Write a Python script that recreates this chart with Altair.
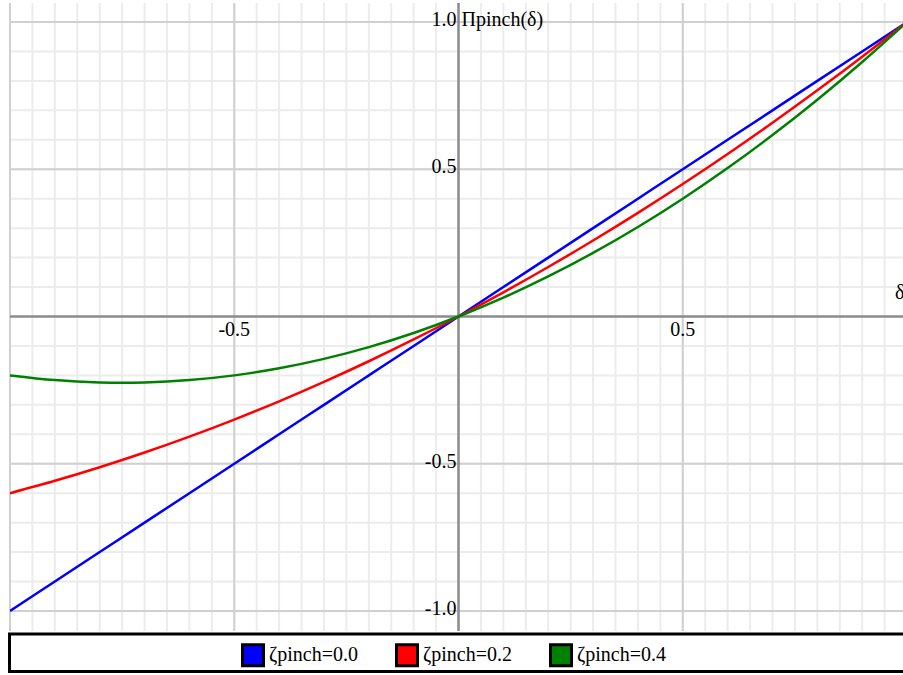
import altair as alt
import numpy as np
import pandas as pd

# Pinch response Π(δ) for three pinch settings, sampled every 0.1 in δ
delta = [-1.0, -0.9, -0.8, -0.7, -0.6, -0.5, -0.4, -0.3, -0.2, -0.1, 0.0,
         0.1, 0.2, 0.3, 0.4, 0.5, 0.6, 0.7, 0.8, 0.9, 1.0]
pinch_00 = [-1.0, -0.9, -0.8, -0.7, -0.6, -0.5, -0.4, -0.3, -0.2, -0.1, 0.0,
            0.1, 0.2, 0.3, 0.4, 0.5, 0.6, 0.7, 0.8, 0.9, 1.0]
pinch_02 = [-0.6, -0.558, -0.512, -0.462, -0.408, -0.35, -0.288, -0.222, -0.152, -0.078, 0.0,
            0.082, 0.168, 0.258, 0.352, 0.45, 0.552, 0.658, 0.768, 0.882, 1.0]
pinch_04 = [-0.2, -0.216, -0.224, -0.224, -0.216, -0.2, -0.176, -0.144, -0.104, -0.056, 0.0,
            0.064, 0.136, 0.216, 0.304, 0.4, 0.504, 0.616, 0.736, 0.864, 1.0]

series_labels = ["ζpinch=0.0", "ζpinch=0.2", "ζpinch=0.4"]
series_colors = ["#0000ff", "#ff0000", "#008000"]

x_tick_values = [-0.5, 0.5]
x_tick_labels = ["-0.5", "0.5"]
y_tick_values = [-1.0, -0.5, 0.5, 1.0]
y_tick_labels = ["-1.0", "-0.5", "0.5", "1.0"]

x_axis_title = "δ"
y_axis_title = "Πpinch(δ)"

X_DOMAIN = [-1.0, 0.991]
Y_DOMAIN = [-1.068, 1.0645]
FONT = "Liberation Serif"
FS = 20

xs = alt.Scale(domain=X_DOMAIN, nice=False, zero=False)
ys = alt.Scale(domain=Y_DOMAIN, nice=False, zero=False)


def X(field):
    return alt.X(field, type="quantitative", scale=xs, axis=None)


def Y(field):
    return alt.Y(field, type="quantitative", scale=ys, axis=None)


# long table of the three curves
curves = pd.DataFrame({
    "delta": delta * 3,
    "value": pinch_00 + pinch_02 + pinch_04,
    "series": [series_labels[0]] * len(delta)
    + [series_labels[1]] * len(delta)
    + [series_labels[2]] * len(delta),
})

# grid positions
minor_x = pd.DataFrame({"v": np.round(np.arange(-1.0, 1.0001, 0.05), 3)})
minor_y = pd.DataFrame({"v": np.round(np.arange(-1.1, 1.1001, 0.1), 3)})
major = pd.DataFrame({"v": [-1.0, -0.5, 0.5, 1.0]})
origin = pd.DataFrame({"v": [0.0]})

minor_x_rules = alt.Chart(minor_x).mark_rule(color="#ececec", strokeWidth=2).encode(x=X("v"))
minor_y_rules = alt.Chart(minor_y).mark_rule(color="#ececec", strokeWidth=2).encode(y=Y("v"))
major_x_rules = alt.Chart(major).mark_rule(color="#d0d0d0", strokeWidth=2).encode(x=X("v"))
major_y_rules = alt.Chart(major).mark_rule(color="#d0d0d0", strokeWidth=2).encode(y=Y("v"))
x_axis_line = alt.Chart(origin).mark_rule(color="#8c8c8c", strokeWidth=2.5).encode(y=Y("v"))
y_axis_line = alt.Chart(origin).mark_rule(color="#8c8c8c", strokeWidth=2.5).encode(x=X("v"))

lines = alt.Chart(curves).mark_line(clip=True, strokeWidth=2.5, interpolate="natural").encode(
    x=X("delta"),
    y=Y("value"),
    stroke=alt.Stroke("series:N", scale=alt.Scale(domain=series_labels, range=series_colors), legend=None),
)

# invisible squares that carry the legend (filled swatches with black outline)
legend_carrier = alt.Chart(curves).mark_square(
    filled=True, stroke="black", strokeWidth=3, opacity=0, size=441
).encode(
    x=X("delta"),
    y=Y("value"),
    fill=alt.Fill(
        "series:N",
        scale=alt.Scale(domain=series_labels, range=series_colors),
        legend=alt.Legend(
            title=None,
            orient="none",
            legendX=231,
            legendY=640,
            direction="horizontal",
            symbolType="square",
            symbolSize=441,
            symbolStrokeWidth=3,
            symbolStrokeColor="black",
            symbolOpacity=1,
            labelFont=FONT,
            labelFontSize=FS,
            labelColor="black",
            labelOffset=4,
            labelLimit=0,
            columnPadding=32,
            padding=0,
        ),
    ),
)

# framed band behind the legend
legend_frame = alt.Chart(origin).mark_rect(fill="white", stroke="black", strokeWidth=3).encode(
    x=alt.value(-0.5), x2=alt.value(905), y=alt.value(631), y2=alt.value(668.5)
)

xt = pd.DataFrame({"v": x_tick_values, "label": x_tick_labels, "zero": 0.0})
yt = pd.DataFrame({"v": y_tick_values, "label": y_tick_labels, "zero": 0.0})

x_labels = alt.Chart(xt).mark_text(
    font=FONT, fontSize=FS, color="black", align="center", baseline="alphabetic", dy=20
).encode(x=X("v"), y=Y("zero"), text="label:N")
y_labels = alt.Chart(yt).mark_text(
    font=FONT, fontSize=FS, color="black", align="right", baseline="alphabetic", dx=-2, dy=4
).encode(x=X("zero"), y=Y("v"), text="label:N")

titles = pd.DataFrame({
    "x": [X_DOMAIN[1], 0.0],
    "y": [0.0, 1.0],
    "label": [x_axis_title, y_axis_title],
})
x_title = alt.Chart(titles.iloc[[0]]).mark_text(
    font=FONT, fontSize=FS, color="black", align="left", baseline="alphabetic", dx=-8, dy=-17
).encode(x=X("x"), y=Y("y"), text="label:N")
y_title = alt.Chart(titles.iloc[[1]]).mark_text(
    font=FONT, fontSize=FS, color="black", align="left", baseline="alphabetic", dx=3, dy=4
).encode(x=X("x"), y=Y("y"), text="label:N")

chart = alt.layer(
    minor_x_rules, minor_y_rules, major_x_rules, major_y_rules,
    x_axis_line, y_axis_line,
    lines, legend_carrier, legend_frame,
    x_labels, y_labels, x_title, y_title,
).resolve_scale(
    stroke="independent", fill="independent"
).properties(
    width=893,
    height=628,
    padding={"left": 10, "top": 3, "right": 0, "bottom": 44},
    autosize=alt.AutoSizeParams(type="none"),
    background="white",
).configure_view(stroke=None)

chart.save("out.html", embed_options={"renderer": "svg", "actions": False})
